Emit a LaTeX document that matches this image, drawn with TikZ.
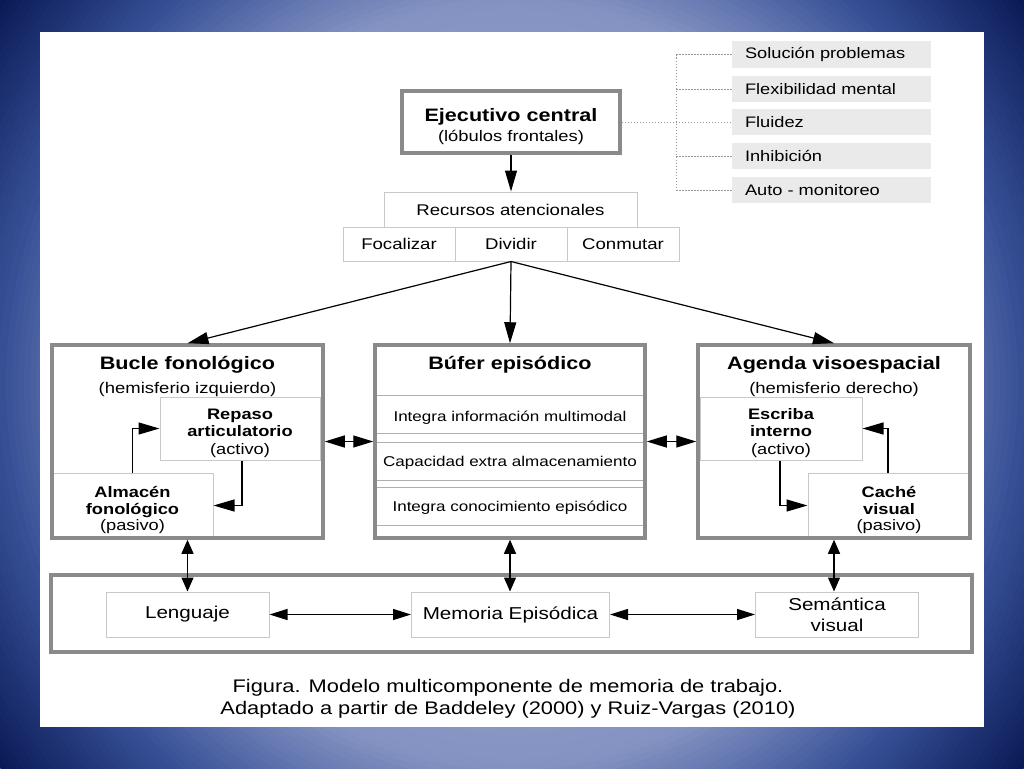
\documentclass[tikz,border=0pt]{standalone}
\usepackage{fontspec}
\setmainfont{Liberation Sans}[FakeStretch=1.2]
\usetikzlibrary{arrows.meta}
\definecolor{thickgray}{RGB}{138,138,138}
\definecolor{thingray}{RGB}{200,200,200}
\definecolor{bandgray}{RGB}{175,175,175}
\definecolor{listgray}{RGB}{234,234,234}
\definecolor{dotgray}{RGB}{150,150,150}
\definecolor{bgA}{RGB}{170,180,215}
\definecolor{bgB}{RGB}{132,147,194}
\definecolor{bgC}{RGB}{55,80,150}
\definecolor{bgD}{RGB}{10,26,86}
\newcommand\fsz[2]{\fontsize{#1}{#2}\selectfont}
\begin{document}
\begin{tikzpicture}[x=1pt,y=-1pt,
  thickbox/.style={draw=thickgray,line width=3.5pt,inner sep=0pt},
  thinbox/.style={draw=thingray,line width=1pt,inner sep=0pt,fill=white},
  listbox/.style={fill=listgray,inner sep=0pt,minimum width=199pt,minimum height=26pt,text width=173pt,align=left,font=\fsz{15.2}{17}},
  lbl/.style={inner sep=0pt,anchor=base},
  txt/.style={inner sep=0pt,align=center},
  arr/.style={-{Triangle[length=21pt,width=12pt]},line width=1.2pt},
  dblv/.style={{Triangle[length=14pt,width=12pt]}-{Triangle[length=14pt,width=12pt]},line width=1.2pt},
  dblh/.style={{Triangle[length=18pt,width=11pt]}-{Triangle[length=18pt,width=11pt]},line width=1.2pt},
  dblbig/.style={{Triangle[length=20pt,width=12pt]}-{Triangle[length=20pt,width=12pt]},line width=1.2pt},
  dots/.style={draw=dotgray,line width=0.8pt,dash pattern=on 1.5pt off 1.5pt},
  bandline/.style={draw=bandgray,line width=0.8pt},
]
\useasboundingbox (0,0) rectangle (1024,768);
% background radial gradient
\begin{scope}
\clip (0,0) rectangle (1024,768);
\fill[bgD] (0,0) rectangle (1024,768);
\foreach \r in {640,634,...,512} {
  \pgfmathsetmacro\p{max(0,min(100,(640-\r)/128*100))}
  \fill[bgC!\p!bgD] (512,384) circle[radius=\r];
}
\foreach \r in {506,500,...,380} {
  \pgfmathsetmacro\p{max(0,min(100,(512-\r)/128*100))}
  \fill[bgB!\p!bgC] (512,384) circle[radius=\r];
}
\foreach \r in {374,362,...,50} {
  \pgfmathsetmacro\p{max(0,min(100,(384-\r)/334*100))}
  \fill[bgA!\p!bgB] (512,384) circle[radius=\r];
}
\end{scope}
\fill[white] (40,32) rectangle (984,727);

% top: executive
\node[thickbox,minimum width=218pt,minimum height=62pt] (ejec) at (511,122) {};
\node[lbl,font=\fsz{18}{20}\bfseries] (eject) at (511,121.5) {Ejecutivo central};
\node[lbl,font=\fsz{15.3}{18}] (ejecsub) at (511,141) {(lóbulos frontales)};

\node[thinbox,minimum width=253pt,minimum height=35pt,font=\fsz{15.5}{18}] (recursos) at (510.5,209.5) {Recursos atencionales};
\node[thinbox,minimum width=112pt,minimum height=34pt,font=\fsz{15.5}{18}] (focal) at (399,244) {Focalizar};
\node[thinbox,minimum width=112pt,minimum height=34pt,font=\fsz{15.5}{18}] (dividir) at (511,244) {Dividir};
\node[thinbox,minimum width=112pt,minimum height=34pt,font=\fsz{15.5}{18}] (conmutar) at (623,244) {Conmutar};

% list of functions
\node[listbox] (l1) at (831.5,54.5) {Solución problemas};
\node[listbox] (l2) at (831.5,89) {Flexibilidad mental};
\node[listbox] (l3) at (831.5,122) {Fluidez};
\node[listbox] (l4) at (831.5,156) {Inhibición};
\node[listbox] (l5) at (831.5,190) {Auto - monitoreo};
\coordinate (dtop) at (676,54.5);
\coordinate (dbot) at (676,190);
\draw[dots] (dtop) -- (dbot);
\draw[dots] (dtop) -- (l1.west);
\draw[dots] (l2.west -| dtop) -- (l2.west);
\draw[dots] (ejec.east) -- (l3.west);
\draw[dots] (l4.west -| dtop) -- (l4.west);
\draw[dots] (dbot) -- (l5.west);

% Bucle fonologico
\node[thinbox,minimum width=160pt,minimum height=63pt] (repaso) at (240,428.5) {};
\node[txt,font=\fsz{15.2}{17.4}] (repasot) at (240,433) {\textbf{Repaso}\\\textbf{articulatorio}\\(activo)};
\node[thinbox,minimum width=161pt,minimum height=65pt] (almacen) at (132.5,505.5) {};
\node[txt,font=\fsz{15.2}{16.4}] (almacent) at (132.5,510) {\textbf{Almacén}\\\textbf{fonológico}\\(pasivo)};
\node[thickbox,minimum width=271pt,minimum height=193pt] (bucle) at (187.5,441.5) {};
\node[lbl,font=\fsz{18}{20}\bfseries] (buclet) at (187.5,369) {Bucle fonológico};
\node[lbl,font=\fsz{15.4}{18}] (buclesub) at (187.5,393) {(hemisferio izquierdo)};

% Bufer episodico
\foreach \yy in {395,433,442,480,487,525} \draw[bandline] (375,\yy) -- (645,\yy);
\node[thickbox,minimum width=270pt,minimum height=193pt] (bufer) at (510,441.5) {};
\node[lbl,font=\fsz{18}{20}\bfseries] (bufert) at (510,369) {Búfer episódico};
\node[lbl,font=\fsz{14.2}{17}] (band1) at (510,421) {Integra información multimodal};
\node[lbl,font=\fsz{14.2}{17}] (band2) at (510,466.5) {Capacidad extra almacenamiento};
\node[lbl,font=\fsz{14.2}{17}] (band3) at (510,511.5) {Integra conocimiento episódico};

% Agenda visoespacial
\node[thinbox,minimum width=162pt,minimum height=63pt] (escriba) at (781,428.5) {};
\node[txt,font=\fsz{15.2}{17.4}] (escribat) at (781,433) {\textbf{Escriba}\\\textbf{interno}\\(activo)};
\node[thinbox,minimum width=162pt,minimum height=65pt] (cache) at (889,505.5) {};
\node[txt,font=\fsz{15.2}{16.4}] (cachet) at (889,510) {\textbf{Caché}\\\textbf{visual}\\(pasivo)};
\node[thickbox,minimum width=272pt,minimum height=193pt] (agenda) at (834,441.5) {};
\node[lbl,font=\fsz{18}{20}\bfseries] (agendat) at (834,369) {Agenda visoespacial};
\node[lbl,font=\fsz{15.4}{18}] (agendasub) at (834,393) {(hemisferio derecho)};

% bottom row
\node[thinbox,minimum width=163pt,minimum height=45pt,font=\fsz{17.2}{20}] (lenguaje) at (187.5,614.5) {Lenguaje};
\node[thinbox,minimum width=198pt,minimum height=45pt,font=\fsz{17.2}{20}] (memoria) at (510.5,614.5) {Memoria Episódica};
\node[thinbox,minimum width=163pt,minimum height=45pt,align=center,font=\fsz{17.2}{21.5}] (semantica) at (837,614.5) {Semántica\\visual};
\node[thickbox,minimum width=921pt,minimum height=77pt] (fondo) at (511.5,613.5) {};

% caption
\node[lbl,font=\fsz{18.2}{22}] (cap1) at (508,692) {Figura. Modelo multicomponente de memoria de trabajo.};
\node[lbl,font=\fsz{18.2}{22}] (cap2) at (508,714) {Adaptado a partir de Baddeley (2000) y Ruiz-Vargas (2010)};

% connectors
\draw[arr] (ejec.south) -- (ejec.south |- recursos.north);
\draw[arr] (dividir.south) -- (bucle.north);
\draw[arr] (dividir.south) -- (bufer.north);
\draw[arr] (dividir.south) -- (agenda.north);
\draw[arr] (almacen.north) |- (repaso.west);
\draw[arr] ([xshift=2pt]repaso.south) |- (almacen.east);
\draw[arr] ([xshift=-1pt]escriba.south) |- (cache.west);
\draw[arr] ([xshift=-1pt]cache.north) |- (escriba.east);
\draw[dblbig] (bucle.east) -- (bufer.west);
\draw[dblbig] (bufer.east) -- (agenda.west);
\draw[dblv] (bucle.south) -- (bucle.south |- lenguaje.north);
\draw[dblv] (bufer.south) -- (bufer.south |- memoria.north);
\draw[dblv] (agenda.south) -- (agenda.south |- semantica.north);
\draw[dblh] (lenguaje.east) -- (memoria.west);
\draw[dblh] (memoria.east) -- (semantica.west);
\end{tikzpicture}
\end{document}
